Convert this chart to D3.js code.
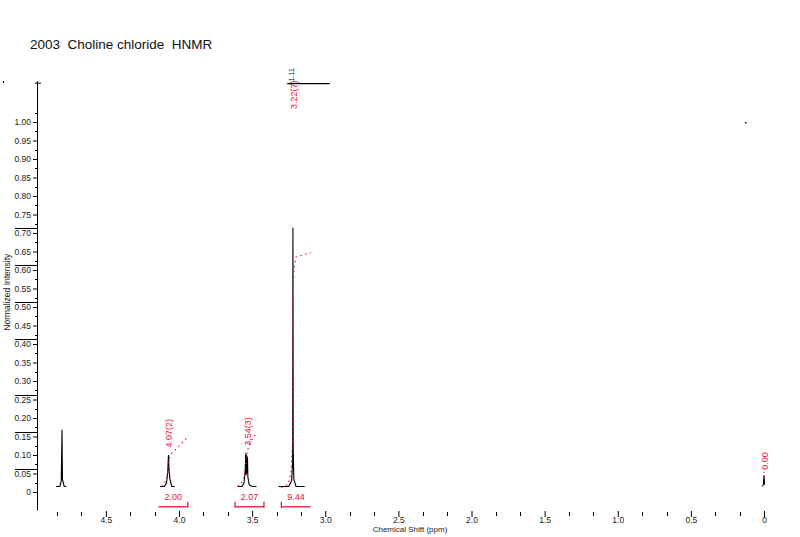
<!DOCTYPE html>
<html>
<head>
<meta charset="utf-8">
<script src="https://cdn.jsdelivr.net/npm/d3@7"></script>
<style>
  html, body { margin: 0; padding: 0; background: #fff; }
  svg { display: block; font-family: "Liberation Sans", Arial, sans-serif; }
</style>
</head>
<body>
<script>
// Spectrum segments, [ppm, normalized intensity]
const hodPeak = [[4.84, 0.015], [4.815, 0.015], [4.805, 0.03], [4.8, 0.168], [4.797, 0.035], [4.785, 0.015], [4.77, 0.015]];
const ch2nPeak = [[4.13, 0.015], [4.1, 0.015], [4.085, 0.025], [4.077, 0.055], [4.072, 0.1], [4.068, 0.06], [4.062, 0.035], [4.05, 0.015], [4.03, 0.015]];
const ch2oPeak = [[3.6, 0.015], [3.57, 0.015], [3.555, 0.025], [3.547, 0.06], [3.544, 0.105], [3.541, 0.045],
  [3.538, 0.1], [3.535, 0.05], [3.532, 0.095], [3.529, 0.04], [3.52, 0.02], [3.5, 0.015], [3.47, 0.015]];
const nme3Peak = [[3.32, 0.015], [3.25, 0.015], [3.23, 0.03], [3.223, 0.08], [3.221, 0.714], [3.219, 0.12], [3.215, 0.035], [3.2, 0.015], [3.14, 0.015]];
const tmsPeak = [[0.012, 0.016], [0.004, 0.02], [0.0, 0.045], [-0.004, 0.02]];
const spectrum = [hodPeak, ch2nPeak, ch2oPeak, nme3Peak, tmsPeak];

// Integral curves (red, dotted)
const integralCurves = [
  [[4.12, 0.015], [4.09, 0.03], [4.075, 0.06], [4.07, 0.085], [4.06, 0.1], [3.94, 0.149]],
  [[3.6, 0.015], [3.56, 0.03], [3.545, 0.07], [3.535, 0.105], [3.52, 0.13], [3.48, 0.154]],
  [[3.3, 0.012], [3.255, 0.02], [3.235, 0.05], [3.222, 0.15], [3.221, 0.52], [3.215, 0.6], [3.2, 0.635], [3.1, 0.647]],
  [[0.0, 0.038], [0.0, 0.055]]
];

// Integration regions and values
const integrals = [
  { from: 4.14, to: 3.94, value: "2.00", ends: ["right"] },
  { from: 3.617, to: 3.419, value: "2.07", ends: ["left", "right"] },
  { from: 3.3, to: 3.1, value: "9.44", ends: ["left"] }
];

// Peak picks
const peakLabels = [
  { ppm: 4.07, y: 0.12, text: "4.07(2)" },
  { ppm: 3.535, y: 0.125, text: "3.54(3)" },
  { ppm: 3.22, y: 1.035, text: "3.22(7)" },
  { ppm: 0.0, y: 0.06, text: "0.00" }
];

const xMajorTicks = [4.5, 4.0, 3.5, 3.0, 2.5, 2.0, 1.5, 1.0, 0.5, 0];
const xMinorTicks = d3.range(1, 30).map(i => i / 6).filter(v => v < 4.85 && Math.abs(v * 2 - Math.round(v * 2)) > 0.01);
const yMajorTicks = d3.range(0, 21).map(i => i * 0.05);
const yMinorTicks = d3.range(0, 21).map(i => i * 0.05 + 0.025);
const yLongTicks = [0.7, 0.6, 0.5, 0.4, 0.25, 0.15, 0.05];

const width = 800, height = 537;
const red = "#f0103c";

const x = d3.scaleLinear().domain([4, 0]).range([179, 764]);
const y = d3.scaleLinear().domain([0, 1]).range([492, 122]);

const svg = d3.select("body").append("svg")
  .attr("width", width)
  .attr("height", height)
  .attr("viewBox", [0, 0, width, height]);

// Title
svg.append("text")
  .attr("x", 30)
  .attr("y", 49)
  .attr("font-size", 13.5)
  .attr("fill", "#111")
  .style("white-space", "pre")
  .text("2003  Choline chloride  HNMR");

// Y axis
const yAxis = d3.axisLeft(y)
  .tickValues(yMajorTicks)
  .tickSize(4)
  .tickPadding(2)
  .tickFormat(d => d < 0.001 ? "0" : d.toFixed(2));

svg.append("g")
  .attr("transform", "translate(37,0)")
  .call(yAxis)
  .call(g => g.select(".domain").remove())
  .call(g => g.selectAll("text").attr("font-size", 8.5).attr("fill", "#222"));

svg.append("g")
  .selectAll("line")
  .data(yMinorTicks)
  .join("line")
  .attr("x1", 35).attr("x2", 37)
  .attr("y1", d => Math.round(y(d)) + 0.5).attr("y2", d => Math.round(y(d)) + 0.5)
  .attr("stroke", "#000");

svg.append("g")
  .selectAll("line")
  .data(yLongTicks)
  .join("line")
  .attr("x1", 15).attr("x2", 37)
  .attr("y1", d => Math.round(y(d)) - 4.5).attr("y2", d => Math.round(y(d)) - 4.5)
  .attr("stroke", "#000");

svg.append("line")
  .attr("x1", 37.5).attr("x2", 37.5)
  .attr("y1", y(1.11)).attr("y2", y(-0.05))
  .attr("stroke", "#000");

svg.append("line")
  .attr("x1", 35).attr("x2", 41)
  .attr("y1", y(1.105)).attr("y2", y(1.105))
  .attr("stroke", "#000");

svg.append("rect").attr("x", 3).attr("y", 81).attr("width", 1).attr("height", 2).attr("fill", "#000");

svg.append("text")
  .attr("transform", `translate(10,${y(0.54)}) rotate(-90)`)
  .attr("text-anchor", "middle")
  .attr("font-size", 8.5)
  .attr("fill", "#222")
  .text("Normalized Intensity");

// X axis
const xAxis = d3.axisBottom(x)
  .tickValues(xMajorTicks)
  .tickSize(6)
  .tickPadding(0)
  .tickFormat(d => d === 0 ? "0" : d.toFixed(1));

svg.append("g")
  .attr("transform", "translate(0,511)")
  .call(xAxis)
  .call(g => g.select(".domain").remove())
  .call(g => g.selectAll("text").attr("font-size", 8.5).attr("fill", "#222"));

svg.append("g")
  .selectAll("line")
  .data(xMinorTicks)
  .join("line")
  .attr("x1", d => Math.round(x(d)) + 0.5).attr("x2", d => Math.round(x(d)) + 0.5)
  .attr("y1", 512).attr("y2", 516)
  .attr("stroke", "#000");

svg.append("text")
  .attr("x", 410)
  .attr("y", 532)
  .attr("text-anchor", "middle")
  .attr("font-size", 8)
  .attr("fill", "#222")
  .text("Chemical Shift (ppm)");

// Spectrum
const line = d3.line().x(d => x(d[0])).y(d => y(d[1]));

svg.append("g")
  .selectAll("path")
  .data(spectrum)
  .join("path")
  .attr("d", line)
  .attr("fill", "none")
  .attr("stroke", "#000")
  .attr("stroke-width", 1.1);

// clipped top of the big peak
svg.append("line")
  .attr("x1", x(3.26)).attr("x2", x(2.97))
  .attr("y1", y(1.105) + 0.5).attr("y2", y(1.105) + 0.5)
  .attr("stroke", "#000")
  .attr("stroke-width", 1.3);

svg.append("text")
  .attr("transform", `translate(${x(3.235) + 3},${y(1.105) - 2}) rotate(-90)`)
  .attr("font-size", 7)
  .attr("fill", "#000")
  .text("1.11");

svg.append("rect").attr("x", 745).attr("y", 122).attr("width", 1.5).attr("height", 1.5).attr("fill", "#000");

// Integral curves
svg.append("g")
  .selectAll("path")
  .data(integralCurves)
  .join("path")
  .attr("d", line)
  .attr("fill", "none")
  .attr("stroke", red)
  .attr("stroke-width", 1.2)
  .attr("stroke-dasharray", "1.5,3.5");

// Integration brackets
const brackets = svg.append("g").selectAll("g")
  .data(integrals)
  .join("g");

brackets.append("line")
  .attr("x1", d => x(d.from)).attr("x2", d => x(d.to))
  .attr("y1", y(-0.04)).attr("y2", y(-0.04))
  .attr("stroke", red)
  .attr("stroke-width", 1.3);

brackets.selectAll("line.end")
  .data(d => d.ends.map(e => (e === "left" ? d.from : d.to)))
  .join("line")
  .attr("class", "end")
  .attr("x1", d => x(d)).attr("x2", d => x(d))
  .attr("y1", y(-0.04) - 5).attr("y2", y(-0.04) + 1)
  .attr("stroke", red)
  .attr("stroke-width", 1.3);

brackets.append("text")
  .attr("x", d => (x(d.from) + x(d.to)) / 2)
  .attr("y", 500)
  .attr("text-anchor", "middle")
  .attr("font-size", 9)
  .attr("fill", red)
  .text(d => d.value);

// Peak labels
svg.append("g")
  .selectAll("text")
  .data(peakLabels)
  .join("text")
  .attr("transform", d => `translate(${x(d.ppm) + 3.5},${y(d.y)}) rotate(-90)`)
  .attr("font-size", 9)
  .attr("fill", red)
  .text(d => d.text);
</script>
</body>
</html>
